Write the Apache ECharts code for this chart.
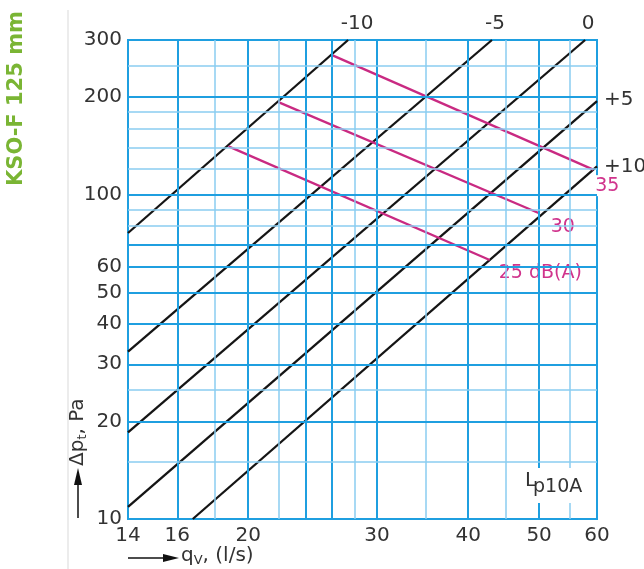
<!DOCTYPE html>
<html>
<head>
<meta charset="utf-8">
<script src="https://cdn.jsdelivr.net/npm/echarts@6/dist/echarts.min.js"></script>
<style>
  html, body { margin: 0; padding: 0; background: #fff; }
  #chart { width: 644px; height: 569px; }
</style>
</head>
<body>
<div id="chart"></div>
<script>
// axis ranges (log-log)
var xMin = 13.7, xMax = 60;
var yMin = 10, yMax = 300;

// grid lines
var xMajor = [16, 20, 24, 26, 30, 40, 50];
var xMinor = [18, 22, 28, 35, 45, 55];
var yMajor = [20, 30, 40, 50, 60, 70, 100, 200];
var yMinor = [15, 25, 80, 90, 120, 140, 160, 180, 250];

// tick labels
var xTickValues = [13.7, 16, 20, 30, 40, 50, 60];
var xTickLabels = ['14', '16', '20', '30', '40', '50', '60'];
var yTickValues = [10, 20, 30, 40, 50, 60, 100, 200, 300];
var yTickLabels = ['10', '20', '30', '40', '50', '60', '100', '200', '300'];

// black lines (damper position)
var lineNames = ['-10', '-5', '0', '+5', '+10'];
var lineStart = [[13.7, 76.2], [13.7, 32.8], [13.7, 18.5], [13.7, 10.9], [16.8, 10]];
var lineEnd = [[27.4, 300], [43.1, 300], [57.8, 300], [60, 194.5], [60, 122.2]];

// magenta lines (sound level)
var dbNames = ['35', '30', '25 dB(A)'];
var dbStart = [[26.0, 270], [22.0, 193], [18.8, 141]];
var dbEnd = [[59.3, 119.5], [50.1, 87.5], [42.8, 62.9]];

var MAJ = '#1f9fe0', MIN = '#8acdf0';
var FONT = '"DejaVu Sans", sans-serif';
var TXT = '#333333';
var NONE = 'rgba(0,0,0,0)';

// label placement (style only)
var lineLabelPos = ['top', 'top', 'top', 'right', 'right'];
var lineLabelOffset = [[9, 0], [3, 0], [3, 0], [1, -1], [1, 0]];
var dbLabelOffset = [[-7, 16], [2, 14], [0, 13]];

var markData = [];
xMajor.forEach(function (v) { markData.push({ xAxis: v, lineStyle: { color: MAJ, width: 2, type: 'solid' } }); });
xMinor.forEach(function (v) { markData.push({ xAxis: v, lineStyle: { color: MIN, width: 1.5, type: 'solid' } }); });
yMajor.forEach(function (v) { markData.push({ yAxis: v, lineStyle: { color: MAJ, width: 2, type: 'solid' } }); });
yMinor.forEach(function (v) { markData.push({ yAxis: v, lineStyle: { color: MIN, width: 1.5, type: 'solid' } }); });
xTickValues.forEach(function (v, i) {
    markData.push({
        xAxis: v,
        lineStyle: { color: NONE, width: 1, type: 'solid' },
        label: { show: true, position: 'start', distance: 7, formatter: xTickLabels[i],
                 color: TXT, fontSize: 20, fontFamily: FONT }
    });
});
yTickValues.forEach(function (v, i) {
    markData.push({
        yAxis: v,
        lineStyle: { color: NONE, width: 1, type: 'solid' },
        label: { show: true, position: 'start', distance: 6, formatter: yTickLabels[i],
                 color: TXT, fontSize: 20, fontFamily: FONT }
    });
});

var series = [{
    type: 'scatter',
    data: [],
    z: 1,
    silent: true,
    markLine: {
        silent: true,
        animation: false,
        symbol: ['none', 'none'],
        label: { show: false },
        lineStyle: { type: 'solid' },
        data: markData
    }
}];

lineNames.forEach(function (name, i) {
    series.push({
        type: 'line',
        z: 3,
        silent: true,
        symbol: 'circle',
        symbolSize: 2,
        showSymbol: true,
        itemStyle: { color: NONE },
        lineStyle: { color: '#151515', width: 2.3 },
        data: [lineStart[i], {
            value: lineEnd[i],
            label: { show: true, formatter: name, position: lineLabelPos[i], offset: lineLabelOffset[i],
                     color: TXT, fontSize: 20, fontFamily: FONT }
        }]
    });
});

dbNames.forEach(function (name, i) {
    series.push({
        type: 'line',
        z: 4,
        silent: true,
        symbol: 'circle',
        symbolSize: 2,
        showSymbol: true,
        itemStyle: { color: NONE },
        lineStyle: { color: '#c92a82', width: 2.3 },
        data: [dbStart[i], {
            value: dbEnd[i],
            label: { show: true, formatter: name, position: 'right', offset: dbLabelOffset[i],
                     color: '#d0338c', fontSize: 19, fontFamily: FONT,
                     backgroundColor: '#ffffff', padding: [1, 3] }
        }]
    });
});

var option = {
    animation: false,
    backgroundColor: '#ffffff',
    grid: {
        left: 128, top: 40, width: 469, height: 479,
        show: true, borderColor: MAJ, borderWidth: 2
    },
    xAxis: {
        type: 'log', logBase: 10, min: xMin, max: xMax,
        axisLine: { show: false }, axisTick: { show: false },
        axisLabel: { show: false }, splitLine: { show: false }
    },
    yAxis: {
        type: 'log', logBase: 10, min: yMin, max: yMax,
        axisLine: { show: false }, axisTick: { show: false },
        axisLabel: { show: false }, splitLine: { show: false }
    },
    graphic: [
        { type: 'line', shape: { x1: 68, y1: 10, x2: 68, y2: 569 }, style: { stroke: '#e6e6e6', lineWidth: 1.5 } },
        { type: 'text', x: 17, y: 186, rotation: Math.PI / 2,
          style: { text: 'KSO-F 125 mm', fontSize: 21, fontWeight: 'bold', fontFamily: FONT,
                   fill: '#7ab534', align: 'left', verticalAlign: 'middle' } },
        // y axis title with arrow
        { type: 'line', shape: { x1: 78, y1: 518, x2: 78, y2: 483 }, style: { stroke: '#111', lineWidth: 1.5 } },
        { type: 'polygon', shape: { points: [[78, 468], [74, 485], [82, 485]] }, style: { fill: '#111' } },
        { type: 'text', x: 78, y: 466, rotation: Math.PI / 2,
          style: { text: '{a|Δp}{b|t}{a|, Pa}', align: 'left', verticalAlign: 'middle', fill: TXT,
                   rich: { a: { fontSize: 20, fontFamily: FONT, lineHeight: 22, fill: TXT },
                           b: { fontSize: 13, fontFamily: FONT, lineHeight: 13, verticalAlign: 'bottom', fill: TXT } } } },
        // x axis title with arrow
        { type: 'line', shape: { x1: 128, y1: 558, x2: 164, y2: 558 }, style: { stroke: '#111', lineWidth: 1.5 } },
        { type: 'polygon', shape: { points: [[179, 558], [163, 554], [163, 562]] }, style: { fill: '#111' } },
        { type: 'text', x: 181, y: 556,
          style: { text: '{a|q}{b|V}{a|, (l/s)}', align: 'left', verticalAlign: 'middle', fill: TXT,
                   rich: { a: { fontSize: 20, fontFamily: FONT, lineHeight: 22, fill: TXT },
                           b: { fontSize: 13, fontFamily: FONT, lineHeight: 13, verticalAlign: 'bottom', fill: TXT } } } },
        // Lp10A note
        { type: 'rect', z: 10, shape: { x: 521, y: 468, width: 70, height: 35 }, style: { fill: '#ffffff' } },
        { type: 'text', z: 11, x: 525, y: 491,
          style: { text: 'L', fontSize: 20, fontFamily: FONT, fill: TXT, align: 'left', verticalAlign: 'bottom' } },
        { type: 'text', z: 11, x: 533, y: 497,
          style: { text: 'p10A', fontSize: 19, fontFamily: FONT, fill: TXT, align: 'left', verticalAlign: 'bottom' } }
    ],
    series: series
};

var chart = echarts.init(document.getElementById('chart'));
chart.setOption(option);
</script>
</body>
</html>
